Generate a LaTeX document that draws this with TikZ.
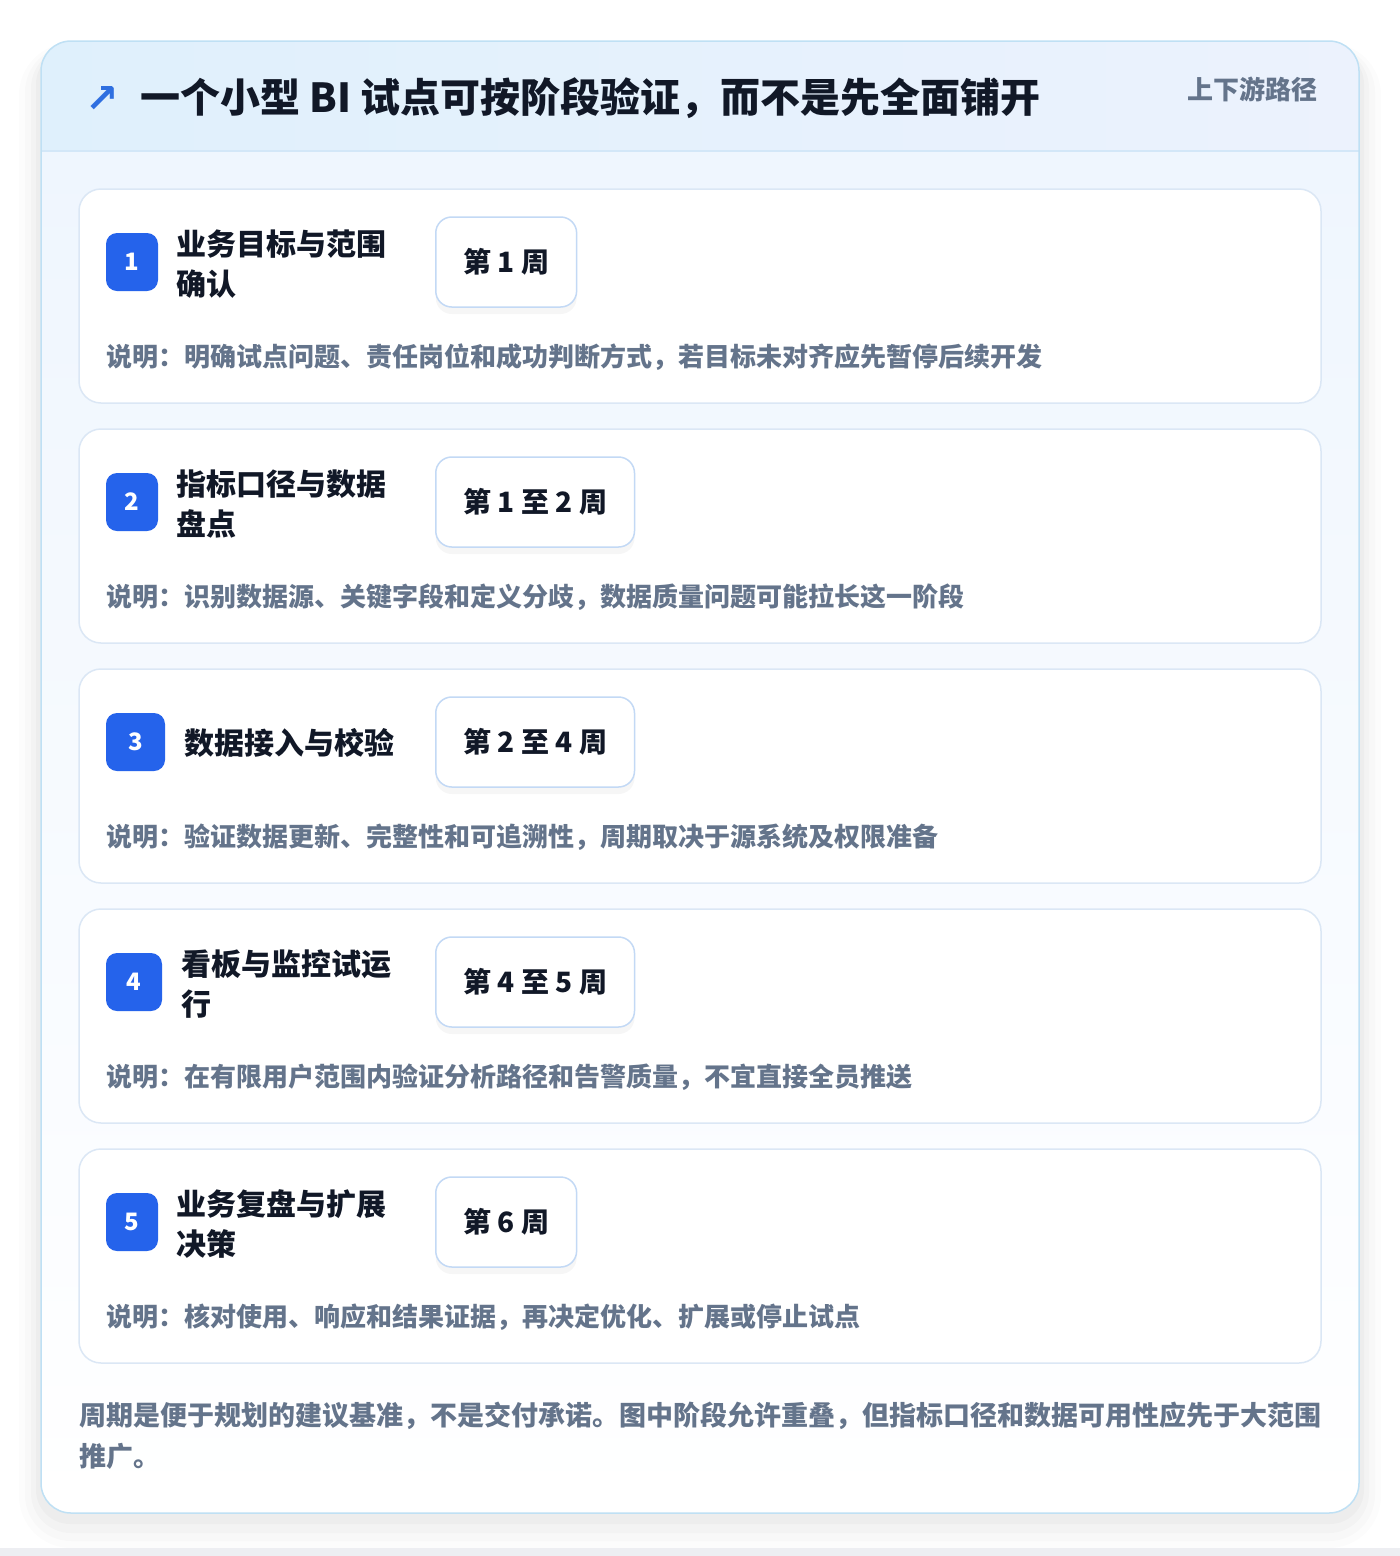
\documentclass[tikz,border=0pt]{standalone}
\usepackage{fontspec}
\setmainfont{Noto Sans CJK SC}
\newfontfamily\symfont{DejaVu Sans}
\usetikzlibrary{shadows}

\definecolor{ink}{HTML}{111827}
\definecolor{muted}{HTML}{64748B}
\definecolor{badge}{HTML}{2563EB}
\definecolor{arrowblue}{HTML}{2F6FE0}
\definecolor{frameline}{HTML}{BFE0F4}
\definecolor{headline}{HTML}{D3E7F8}
\definecolor{cardline}{HTML}{DBE7F5}
\definecolor{pillline}{HTML}{C3D9F5}
\definecolor{headleft}{HTML}{DFF0FC}
\definecolor{headright}{HTML}{ECF2FD}
\definecolor{bodytop}{HTML}{EFF6FE}
\definecolor{floor}{HTML}{EDEEF2}

\begin{document}
\begin{tikzpicture}[x=1pt,y=-1pt,
  stepcard/.style={draw=cardline,line width=1.5pt,fill=white,rounded corners=22pt,
    minimum width=1242pt,minimum height=214pt,inner sep=0pt},
  numbadge/.style={fill=badge,text=white,rounded corners=11pt,minimum width=52pt,
    minimum height=58pt,inner sep=0pt,font=\fontsize{24}{24}\selectfont\bfseries},
  steptitle/.style={anchor=west,align=left,inner sep=0pt,text=ink,
    font=\fontsize{30}{40}\selectfont\bfseries},
  weekpill/.style={anchor=west,draw=pillline,line width=1.5pt,fill=white,
    rounded corners=16pt,minimum height=90pt,inner xsep=27.5pt,text=ink,
    font=\fontsize{28}{28}\selectfont\bfseries,
    drop shadow={shadow xshift=0pt,shadow yshift=-7pt,fill=black,opacity=.035}},
  stepnote/.style={anchor=west,inner sep=0pt,text=muted,
    font=\fontsize{26}{26}\selectfont\bfseries}]
\useasboundingbox (0,0) rectangle (1400,1556);

% page and outer frame
\fill[floor] (0,1548) rectangle (1400,1556);
\fill[black,opacity=.012,rounded corners=52pt] (19,43) rectangle (1381,1548);
\fill[black,opacity=.016,rounded corners=46pt] (25,46) rectangle (1375,1541);
\fill[black,opacity=.02,rounded corners=40pt] (31,48) rectangle (1369,1533);
\fill[black,opacity=.025,rounded corners=34pt] (36,50) rectangle (1364,1524);
\path[fill=white,rounded corners=30pt] (41,41) rectangle (1359,1513);
\begin{scope}
  \clip[rounded corners=30pt] (41,41) rectangle (1359,1513);
  \shade[left color=headleft,right color=headright] (41,41) rectangle (1359,151);
  \shade[top color=bodytop,bottom color=white] (41,151) rectangle (1359,1513);
  \draw[headline,line width=1.5pt] (41,151) -- (1359,151);
\end{scope}
\draw[frameline,line width=1.5pt,rounded corners=30pt] (41,41) rectangle (1359,1513);

% header
\path (102,99) node[text=arrowblue,font=\fontsize{40}{40}\symfont\bfseries] (Icon) {↗};
\path (140,98) node[anchor=west,inner sep=0pt,text=ink,font=\fontsize{40}{40}\selectfont\bfseries] (Head)
  {一个小型 BI 试点可按阶段验证，而不是先全面铺开};
\path (1318,89) node[anchor=east,inner sep=0pt,text=muted,font=\fontsize{26}{26}\selectfont\bfseries] (Route)
  {上下游路径};

% step 1
\path (700,296) node[stepcard] (C1) {};
\path (132,262) node[numbadge] (N1) {1};
\path (176,264) node[steptitle] (T1) {业务目标与范围\\确认};
\path (435,262) node[weekpill] (W1) {第 1 周};
\path (106,357) node[stepnote] (D1) {说明：明确试点问题、责任岗位和成功判断方式，若目标未对齐应先暂停后续开发};

% step 2
\path (700,536) node[stepcard] (C2) {};
\path (132,502) node[numbadge] (N2) {2};
\path (176,504) node[steptitle] (T2) {指标口径与数据\\盘点};
\path (435,502) node[weekpill] (W2) {第 1 至 2 周};
\path (106,597) node[stepnote] (D2) {说明：识别数据源、关键字段和定义分歧，数据质量问题可能拉长这一阶段};

% step 3
\path (700,776) node[stepcard] (C3) {};
\path (135.5,742) node[numbadge,minimum width=59pt] (N3) {3};
\path (184,743) node[steptitle] (T3) {数据接入与校验};
\path (435,742) node[weekpill] (W3) {第 2 至 4 周};
\path (106,837) node[stepnote] (D3) {说明：验证数据更新、完整性和可追溯性，周期取决于源系统及权限准备};

% step 4
\path (700,1016) node[stepcard] (C4) {};
\path (134,982) node[numbadge,minimum width=56pt] (N4) {4};
\path (181,984) node[steptitle] (T4) {看板与监控试运\\行};
\path (435,982) node[weekpill] (W4) {第 4 至 5 周};
\path (106,1077) node[stepnote] (D4) {说明：在有限用户范围内验证分析路径和告警质量，不宜直接全员推送};

% step 5
\path (700,1256) node[stepcard] (C5) {};
\path (132,1222) node[numbadge] (N5) {5};
\path (176,1224) node[steptitle] (T5) {业务复盘与扩展\\决策};
\path (435,1222) node[weekpill] (W5) {第 6 周};
\path (106,1317) node[stepnote] (D5) {说明：核对使用、响应和结果证据，再决定优化、扩展或停止试点};

% footnote
\path (79,1435.5) node[anchor=west,align=left,inner sep=0pt,text=muted,
  font=\fontsize{27}{41}\selectfont\bfseries] (Foot)
  {周期是便于规划的建议基准，不是交付承诺。图中阶段允许重叠，但指标口径和数据可用性应先于大范围\\推广。};
\end{tikzpicture}
\end{document}
